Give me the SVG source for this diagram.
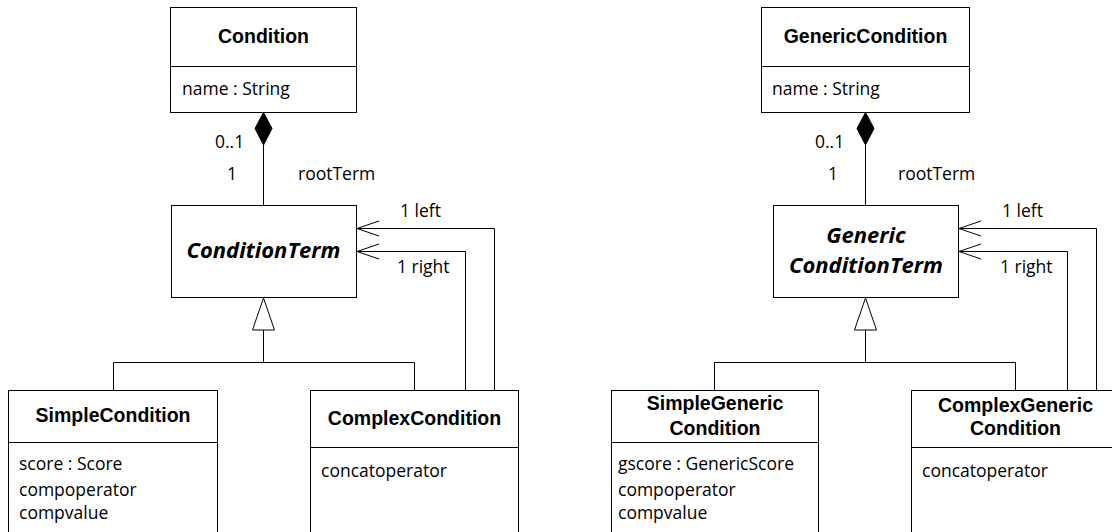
<svg xmlns="http://www.w3.org/2000/svg" width="1112" height="532" viewBox="0 0 1112 532">
  <style>
    .box { fill: #ffffff; stroke: #000000; stroke-width: 1; }
    .sep { stroke: #000000; stroke-width: 1; }
    .line { fill: none; stroke: #000000; stroke-width: 1; }
    .title { font-family: "Liberation Sans", Arial, sans-serif; font-weight: bold; font-size: 19.5px; fill: #000; text-anchor: middle; }
    .abstract { font-family: "Open Sans", "Liberation Sans", sans-serif; font-weight: bold; font-style: italic; font-size: 22px; fill: #000; text-anchor: middle; }
    .attr { font-family: "Open Sans", "Liberation Sans", sans-serif; font-size: 17.5px; fill: #000; }
    .lbl { font-family: "Open Sans", "Liberation Sans", sans-serif; font-size: 17.5px; fill: #000; }
  </style>
  <defs>
    <!-- open navigability arrowhead; tip sits on the path end -->
    <marker id="open" markerUnits="userSpaceOnUse" markerWidth="26" markerHeight="20" refX="23" refY="8" orient="auto" viewBox="0 0 26 16" overflow="visible">
      <path d="M1,0.5 L23,8 L1,15.5" fill="none" stroke="#000" stroke-width="1"/>
    </marker>
  </defs>

  <!-- left diagram -->
  <g id="condition">
    <rect class="box" x="170.5" y="7.5" width="186" height="105"/>
    <line class="sep" x1="170.5" y1="66.5" x2="356.5" y2="66.5"/>
    <text class="title" x="263.5" y="43">Condition</text>
    <text class="attr" x="182" y="95">name : String</text>
  </g>
  <g id="conditionTerm">
    <rect class="box" x="171.5" y="205.5" width="185" height="92"/>
    <text class="abstract" x="263.5" y="258">ConditionTerm</text>
  </g>
  <g id="simpleCondition">
    <rect class="box" x="8.5" y="390.5" width="209" height="150"/>
    <line class="sep" x1="8.5" y1="442.5" x2="217.5" y2="442.5"/>
    <text class="title" x="113" y="422">SimpleCondition</text>
    <text class="attr" x="19" y="470">score : Score</text>
    <text class="attr" x="19" y="496">compoperator</text>
    <text class="attr" x="19" y="519">compvalue</text>
  </g>
  <g id="complexCondition">
    <rect class="box" x="310.5" y="390.5" width="208" height="150"/>
    <line class="sep" x1="310.5" y1="447.5" x2="518.5" y2="447.5"/>
    <text class="title" x="414.5" y="425">ComplexCondition</text>
    <text class="attr" x="321" y="477">concatoperator</text>
  </g>

  <!-- right diagram -->
  <g id="genericCondition">
    <rect class="box" x="761.5" y="7.5" width="208" height="105"/>
    <line class="sep" x1="761.5" y1="66.5" x2="969.5" y2="66.5"/>
    <text class="title" x="865.5" y="43">GenericCondition</text>
    <text class="attr" x="772" y="95">name : String</text>
  </g>
  <g id="genericConditionTerm">
    <rect class="box" x="773.5" y="205.5" width="185" height="92"/>
    <text class="abstract" x="866" y="243">Generic</text>
    <text class="abstract" x="866" y="273">ConditionTerm</text>
  </g>
  <g id="simpleGenericCondition">
    <rect class="box" x="611.5" y="390.5" width="207" height="150"/>
    <line class="sep" x1="611.5" y1="442.5" x2="818.5" y2="442.5"/>
    <text class="title" x="715" y="410">SimpleGeneric</text>
    <text class="title" x="715" y="435">Condition</text>
    <text class="attr" x="618" y="470">gscore : GenericScore</text>
    <text class="attr" x="618" y="496">compoperator</text>
    <text class="attr" x="618" y="519">compvalue</text>
  </g>
  <g id="complexGenericCondition">
    <rect class="box" x="911.5" y="390.5" width="210" height="150"/>
    <line class="sep" x1="911.5" y1="447.5" x2="1112" y2="447.5"/>
    <text class="title" x="1015.5" y="412">ComplexGeneric</text>
    <text class="title" x="1015.5" y="435">Condition</text>
    <text class="attr" x="922" y="477">concatoperator</text>
  </g>

  <!-- connectors -->
  <g id="connectors">
    <!-- left: composition Condition -> ConditionTerm -->
    <path d="M263.5,112.5 L272,128.5 L263.5,145 L255,128.5 Z" fill="#000" stroke="#000"/>
    <path class="line" d="M263.5,145 V205"/>
    <!-- left: generalization -->
    <path d="M263.5,298 L274.5,330 L252.5,330 Z" fill="#fff" stroke="#000"/>
    <path class="line" d="M263.5,330 V362.5 M113.5,390 V362.5 H414.5 V390"/>
    <!-- left: left / right associations -->
    <path class="line" d="M494.5,390 V228.5 H357" marker-end="url(#open)"/>
    <path class="line" d="M465.5,390 V251.5 H357" marker-end="url(#open)"/>

    <!-- right: composition GenericCondition -> GenericConditionTerm -->
    <path d="M865.5,112.5 L874,128.5 L865.5,145 L857,128.5 Z" fill="#000" stroke="#000"/>
    <path class="line" d="M865.5,145 V205"/>
    <!-- right: generalization -->
    <path d="M865.5,298 L876.5,330 L854.5,330 Z" fill="#fff" stroke="#000"/>
    <path class="line" d="M865.5,330 V362.5 M714.5,390 V362.5 H1015.5 V390"/>
    <!-- right: left / right associations -->
    <path class="line" d="M1096.5,390 V228.5 H959" marker-end="url(#open)"/>
    <path class="line" d="M1067.5,390 V251.5 H959" marker-end="url(#open)"/>

    <!-- association labels -->
    <text class="lbl" x="215" y="148">0..1</text>
    <text class="lbl" x="227" y="180">1</text>
    <text class="lbl" x="298" y="180">rootTerm</text>
    <text class="lbl" x="400" y="217">1 left</text>
    <text class="lbl" x="397" y="273">1 right</text>

    <text class="lbl" x="815" y="148">0..1</text>
    <text class="lbl" x="828" y="180">1</text>
    <text class="lbl" x="898" y="180">rootTerm</text>
    <text class="lbl" x="1002" y="217">1 left</text>
    <text class="lbl" x="1000" y="273">1 right</text>
  </g>
</svg>
